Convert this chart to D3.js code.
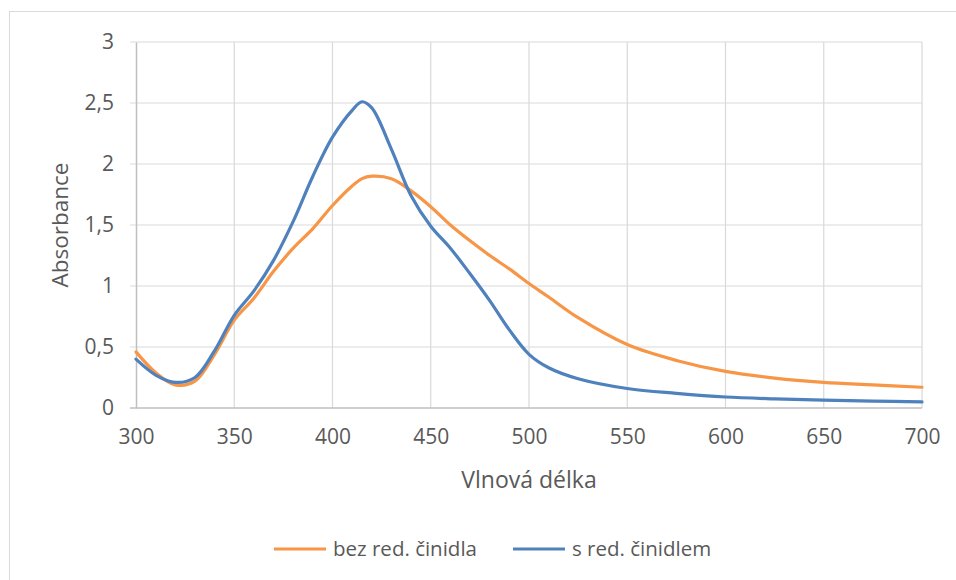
<!DOCTYPE html>
<html>
<head>
<meta charset="utf-8">
<script src="https://cdn.jsdelivr.net/npm/d3@7"></script>
<style>
  body { margin: 0; background: #fff; }
  text { font-family: "Open Sans", "Noto Sans", sans-serif; fill: #595959; }
</style>
</head>
<body>
<div id="chart"></div>
<script>
// wavelengths (nm)
var wavelengths = [300, 310, 320, 330, 340, 350, 360, 370, 380, 390, 400, 410, 415, 420, 430, 440, 450, 460, 470, 480, 490, 500, 510, 525, 550, 575, 600, 625, 650, 675, 700];
// bez red. činidla
var withoutAgent = [0.46, 0.29, 0.19, 0.22, 0.44, 0.72, 0.90, 1.12, 1.31, 1.47, 1.66, 1.82, 1.88, 1.90, 1.88, 1.78, 1.65, 1.50, 1.37, 1.25, 1.14, 1.02, 0.91, 0.74, 0.52, 0.39, 0.30, 0.245, 0.21, 0.19, 0.17];
// s red. činidlem
var withAgent = [0.40, 0.27, 0.21, 0.25, 0.47, 0.76, 0.96, 1.21, 1.53, 1.90, 2.22, 2.44, 2.51, 2.46, 2.12, 1.74, 1.49, 1.31, 1.10, 0.88, 0.64, 0.44, 0.33, 0.24, 0.16, 0.12, 0.09, 0.075, 0.065, 0.057, 0.05];

var xTicks = [300, 350, 400, 450, 500, 550, 600, 650, 700];
var yTicks = [0, 0.5, 1, 1.5, 2, 2.5, 3];

var seriesNames = ["bez red. činidla", "s red. činidlem"];
var colors = ["#F79646", "#4F81BD"];

var width = 956, height = 580;
var margin = { left: 136, right: 34, top: 42, bottom: 172 };

var svg = d3.select("#chart")
  .append("svg")
  .attr("width", width)
  .attr("height", height);

// outer chart border (chart is cropped at right/bottom)
svg.append("rect")
  .attr("x", 9.5).attr("y", 11.5)
  .attr("width", 960).attr("height", 600)
  .attr("fill", "none")
  .attr("stroke", "#d9d9d9")
  .attr("stroke-width", 1);

var x = d3.scaleLinear().domain([300, 700]).range([margin.left, width - margin.right]);
var y = d3.scaleLinear().domain([0, 3]).range([height - margin.bottom, margin.top]);

// gridlines
svg.append("g")
  .selectAll("line")
  .data(xTicks.slice(1))
  .enter().append("line")
  .attr("x1", function(d) { return x(d); })
  .attr("x2", function(d) { return x(d); })
  .attr("y1", y(3)).attr("y2", y(0))
  .attr("stroke", "#d9d9d9").attr("stroke-width", 1.2);

svg.append("g")
  .selectAll("line")
  .data(yTicks.slice(1))
  .enter().append("line")
  .attr("x1", x(300) - 6).attr("x2", x(700))
  .attr("y1", function(d) { return y(d); })
  .attr("y2", function(d) { return y(d); })
  .attr("stroke", "#d9d9d9").attr("stroke-width", 1.2);

// axes
var fmt = function(d) { return String(d).replace(".", ","); };

var xAxis = svg.append("g")
  .attr("transform", "translate(0," + y(0) + ")")
  .call(d3.axisBottom(x).tickValues(xTicks).tickSize(0).tickPadding(21).tickFormat(fmt));
xAxis.select(".domain").attr("stroke", "#bfbfbf").attr("stroke-width", 1.5)
  .attr("d", "M" + (x(300) - 6) + ",0H" + x(700));
xAxis.selectAll("text").style("font-size", "21px");

var yAxis = svg.append("g")
  .attr("transform", "translate(" + x(300) + ",0)")
  .call(d3.axisLeft(y).tickValues(yTicks).tickSize(0).tickPadding(22).tickFormat(fmt));
yAxis.select(".domain").attr("stroke", "#bfbfbf").attr("stroke-width", 1.5);
yAxis.selectAll("text").style("font-size", "21px");

// axis titles
svg.append("text")
  .attr("x", (x(300) + x(700)) / 2)
  .attr("y", 488)
  .attr("text-anchor", "middle")
  .style("font-size", "23px")
  .text("Vlnová délka");

svg.append("text")
  .attr("transform", "translate(68," + ((y(0) + y(3)) / 2) + ") rotate(-90)")
  .attr("text-anchor", "middle")
  .style("font-size", "22.5px")
  .text("Absorbance");

// lines
var line = d3.line()
  .x(function(d) { return x(d[0]); })
  .y(function(d) { return y(d[1]); })
  .curve(d3.curveCatmullRom.alpha(0.5));

[withoutAgent, withAgent].forEach(function(vals, i) {
  svg.append("path")
    .datum(wavelengths.map(function(w, j) { return [w, vals[j]]; }))
    .attr("d", line)
    .attr("fill", "none")
    .attr("stroke", colors[i])
    .attr("stroke-width", 3.2)
    .attr("stroke-linecap", "round");
});

// legend
var legendPos = [274, 513];
seriesNames.forEach(function(name, i) {
  var g = svg.append("g").attr("transform", "translate(" + legendPos[i] + ",549)");
  g.append("line")
    .attr("x1", 0).attr("x2", 52)
    .attr("stroke", colors[i]).attr("stroke-width", 3.2);
  g.append("text")
    .attr("x", 59).attr("y", 7)
    .style("font-size", "20.5px")
    .text(name);
});
</script>
</body>
</html>
